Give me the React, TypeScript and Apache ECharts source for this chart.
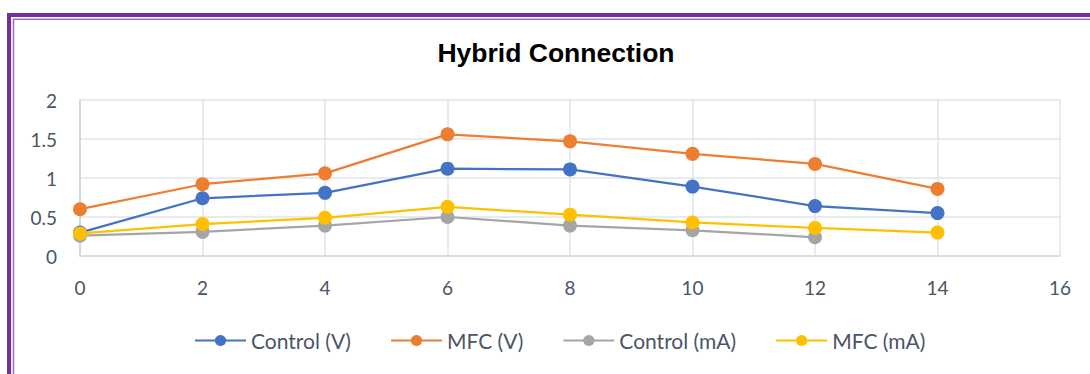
import React, { useEffect, useRef } from "react";
import * as echarts from "echarts";

const xValues = [0, 2, 4, 6, 8, 10, 12, 14];
const controlV = [0.3, 0.74, 0.81, 1.12, 1.11, 0.89, 0.64, 0.55];
const mfcV = [0.6, 0.92, 1.06, 1.56, 1.47, 1.31, 1.18, 0.86];
const controlMA = [0.26, 0.31, 0.39, 0.5, 0.39, 0.33, 0.24];
const mfcMA = [0.29, 0.41, 0.49, 0.63, 0.53, 0.43, 0.36, 0.3];

const seriesNames = ["Control (V)", "MFC (V)", "Control (mA)", "MFC (mA)"];
const seriesColors = ["#4472C4", "#ED7D31", "#A5A5A5", "#FFC000"];
const seriesValues = [controlV, mfcV, controlMA, mfcMA];

const labelColor = "#4a5568";
const labelFont = "Lato, 'Open Sans', sans-serif";

export default function App() {
  const ref = useRef<HTMLDivElement>(null);
  useEffect(() => {
    if (!ref.current) return;
    const chart = echarts.init(ref.current, undefined, { renderer: "svg" });
    chart.setOption({
      animation: false,
      backgroundColor: "#ffffff",
      title: {
        text: "Hybrid Connection",
        left: 556,
        top: 39,
        textAlign: "center",
        padding: 0,
        textStyle: {
          fontFamily: "'Liberation Sans', Arial, sans-serif",
          fontWeight: "bold",
          fontSize: 26.5,
          color: "#000000",
        },
      },
      legend: {
        left: 194,
        top: 330,
        padding: 0,
        itemWidth: 51,
        itemHeight: 14,
        itemGap: 39,
        data: seriesNames,
        textStyle: {
          fontFamily: labelFont,
          fontSize: 21,
          color: labelColor,
        },
      },
      grid: { left: 80, right: 30, top: 100, bottom: 118 },
      xAxis: {
        type: "value",
        min: 0,
        max: 16,
        interval: 2,
        axisLine: { show: true, lineStyle: { color: "#d6dbe3", width: 1.5 } },
        axisTick: { show: false },
        axisLabel: {
          margin: 22,
          fontFamily: labelFont,
          fontSize: 19,
          color: labelColor,
        },
        splitLine: { show: true, lineStyle: { color: "#dfe3e9", width: 1.5 } },
      },
      yAxis: {
        type: "value",
        min: 0,
        max: 2,
        interval: 0.5,
        axisLine: { show: true, lineStyle: { color: "#cbd2dd", width: 1.5 } },
        axisTick: { show: false },
        axisLabel: {
          margin: 23,
          fontFamily: labelFont,
          fontSize: 19,
          color: labelColor,
        },
        splitLine: { show: true, lineStyle: { color: "#dfe3e9", width: 1.5 } },
      },
      graphic: [
        {
          type: "rect",
          shape: { x: 9, y: 15, width: 1300, height: 600 },
          style: { fill: "none", stroke: "#7030A0", lineWidth: 4 },
          silent: true,
        },
        {
          type: "rect",
          shape: { x: 13.5, y: 19.2, width: 1300, height: 600 },
          style: { fill: "none", stroke: "#9a6cc2", lineWidth: 1.5 },
          silent: true,
        },
      ],
      series: seriesNames.map((name, i) => ({
        name,
        type: "line",
        data: seriesValues[i].map((v, j) => [xValues[j], v]),
        symbol: "circle",
        symbolSize: 14,
        color: seriesColors[i],
        lineStyle: { width: 2.25, color: seriesColors[i] },
        itemStyle: { color: seriesColors[i] },
      })),
    });
    return () => chart.dispose();
  }, []);
  return (
    <div
      ref={ref}
      style={{ position: "fixed", left: 0, top: 0, width: 1090, height: 374 }}
    />
  );
}
